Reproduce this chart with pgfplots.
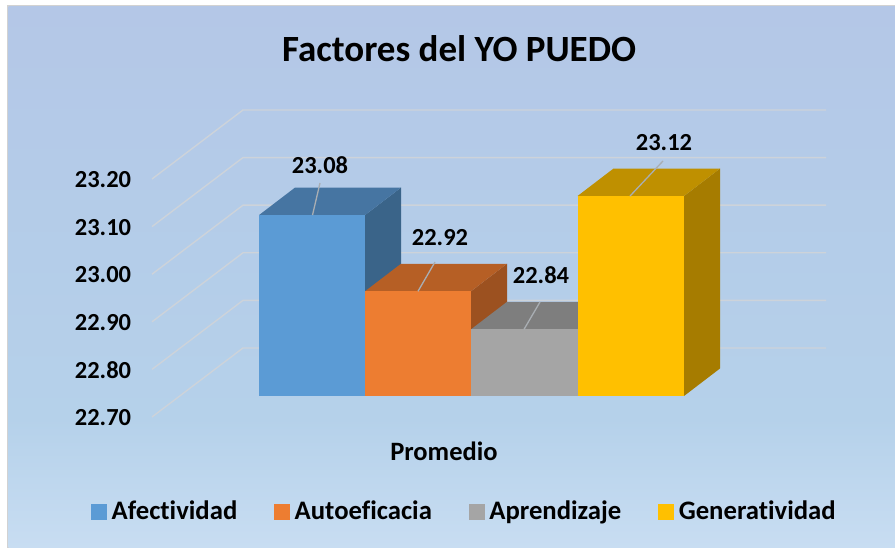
\documentclass[border=0pt]{standalone}
\usepackage{fontspec}
\setmainfont{Carlito}[Ligatures=NoCommon]
\usepackage{pgfplots}
\pgfplotsset{compat=1.18}
\definecolor{gridc}{HTML}{CDD3DA}
\definecolor{lead}{HTML}{A9AEB3}
\definecolor{bA}{HTML}{5B9BD5}\definecolor{tA}{HTML}{4675A2}\definecolor{sA}{HTML}{3A6489}
\definecolor{bB}{HTML}{ED7D31}\definecolor{tB}{HTML}{B65F25}\definecolor{sB}{HTML}{9C5120}
\definecolor{bC}{HTML}{A5A5A5}\definecolor{tC}{HTML}{7E7E7E}\definecolor{sC}{HTML}{6B6B6B}
\definecolor{bD}{HTML}{FFC000}\definecolor{tD}{HTML}{BF9000}\definecolor{sD}{HTML}{A67C00}
\definecolor{bgA}{HTML}{C8DDF2}\definecolor{bgB}{HTML}{B5D1EA}\definecolor{bgC}{HTML}{B4CBE8}\definecolor{bgD}{HTML}{B4C7E7}
\pgfdeclareverticalshading{bgshade}{100bp}{color(0bp)=(bgA);color(25bp)=(bgA);color(37bp)=(bgB);color(60bp)=(bgC);color(75bp)=(bgD);color(100bp)=(bgD)}
\pgfplotsset{
  common/.style={scale only axis,width=895pt,height=548pt,xmin=0,xmax=895,clip=false,
    axis line style={draw=none},xtick=\empty},
  face/.style={fill=#1,draw=none,forget plot},
  leader/.style={draw=lead,line width=1.3pt,forget plot},
  wall/.style={draw=gridc,line width=1.4pt,forget plot},
  lbox/.style={legend image code/.code={\fill[#1] (0pt,-4.5pt) rectangle (15pt,10.5pt);}},
}
\begin{document}
\begin{tikzpicture}[x=1pt,y=1pt]
\path[use as bounding box] (0,0) rectangle (895,548);
\fill[white] (0,0) rectangle (895,548);
\fill[gray!35] (7,0) rectangle (895,543);
\shade[shading=bgshade] (8.5,0) rectangle (895,541.5);
% back walls: true values on the rear plane
\begin{axis}[common,ymin=22.2798,ymax=23.4311,
  ytick={22.7,22.8,22.9,23.0,23.1,23.2},
  major tick length=0pt,
  yticklabel style={anchor=center,xshift=103pt,yshift=-69.5pt,
    font=\fontsize{24.5}{28}\selectfont\bfseries,
    /pgf/number format/.cd,fixed,fixed zerofill,precision=2,assume math mode=true}]
\addplot[wall] coordinates {(152,22.555) (243,22.70) (826,22.70)};
\addplot[wall] coordinates {(152,22.655) (243,22.80) (826,22.80)};
\addplot[wall] coordinates {(152,22.755) (243,22.90) (826,22.90)};
\addplot[wall] coordinates {(152,22.855) (243,23.00) (826,23.00)};
\addplot[wall] coordinates {(152,22.955) (243,23.10) (826,23.10)};
\addplot[wall] coordinates {(152,23.055) (243,23.20) (826,23.20)};
\end{axis}
% bars: true values on the front plane
\begin{axis}[common,ymin=22.3807,ymax=23.5319,ytick=\empty,
  title={Factores del YO PUEDO},
  title style={at={(0.513,0.9)},anchor=center,font=\fontsize{37}{42}\selectfont\bfseries},
  xlabel={Promedio},
  xlabel style={at={(0.496,0.177)},anchor=center,font=\fontsize{26.5}{30}\selectfont\bfseries},
  legend style={at={(0.519,0.0615)},anchor=center,draw=none,fill=none,
    font=\fontsize{26.7}{30}\selectfont\bfseries,legend columns=4,
    nodes={text height=17pt,text depth=6pt},
    /tikz/every even column/.append style={column sep=35pt},
    /tikz/every odd column/.append style={column sep=3pt}},
  legend cell align=left]
% Afectividad 23.08
\addplot[face=sA] coordinates {(365,22.70) (401,22.7578) (401,23.1378) (365,23.08)} --cycle;
\addplot[face=tA] coordinates {(259,23.08) (295,23.1378) (401,23.1378) (365,23.08)} --cycle;
\addplot[face=bA] coordinates {(259,22.70) (259,23.08) (365,23.08) (365,22.70)} --cycle;
% Autoeficacia 22.92
\addplot[face=sB] coordinates {(471,22.70) (507,22.7578) (507,22.9778) (471,22.92)} --cycle;
\addplot[face=tB] coordinates {(365,22.92) (401,22.9778) (507,22.9778) (471,22.92)} --cycle;
\addplot[face=bB] coordinates {(365,22.70) (365,22.92) (471,22.92) (471,22.70)} --cycle;
% Aprendizaje 22.84
\addplot[face=sC] coordinates {(577.5,22.70) (613.5,22.7578) (613.5,22.8978) (577.5,22.84)} --cycle;
\addplot[face=tC] coordinates {(471,22.84) (507,22.8978) (613.5,22.8978) (577.5,22.84)} --cycle;
\addplot[face=bC] coordinates {(471,22.70) (471,22.84) (577.5,22.84) (577.5,22.70)} --cycle;
% Generatividad 23.12
\addplot[face=sD] coordinates {(684,22.70) (720,22.7578) (720,23.1778) (684,23.12)} --cycle;
\addplot[face=tD] coordinates {(577.5,23.12) (613.5,23.1778) (720,23.1778) (684,23.12)} --cycle;
\addplot[face=bD] coordinates {(577.5,22.70) (577.5,23.12) (684,23.12) (684,22.70)} --cycle;
% leaders
\addplot[leader] coordinates {(312.5,23.08) (320,23.1475)};
\addplot[leader] coordinates {(418,22.92) (435,22.9815)};
\addplot[leader] coordinates {(524,22.84) (540,22.8975)};
\addplot[leader] coordinates {(630,23.12) (663,23.1937)};
\addlegendimage{lbox=bA}\addlegendentry{Afectividad}
\addlegendimage{lbox=bB}\addlegendentry{Autoeficacia}
\addlegendimage{lbox=bC}\addlegendentry{Aprendizaje}
\addlegendimage{lbox=bD}\addlegendentry{Generatividad}
\begin{scope}[every node/.style={font=\fontsize{24.5}{28}\selectfont\bfseries}]
\node at (axis cs:320,23.1853) {23.08};
\node at (axis cs:440,23.032) {22.92};
\node at (axis cs:541,22.954) {22.84};
\node at (axis cs:664,23.2315) {23.12};
\end{scope}
\end{axis}
\end{tikzpicture}
\end{document}
